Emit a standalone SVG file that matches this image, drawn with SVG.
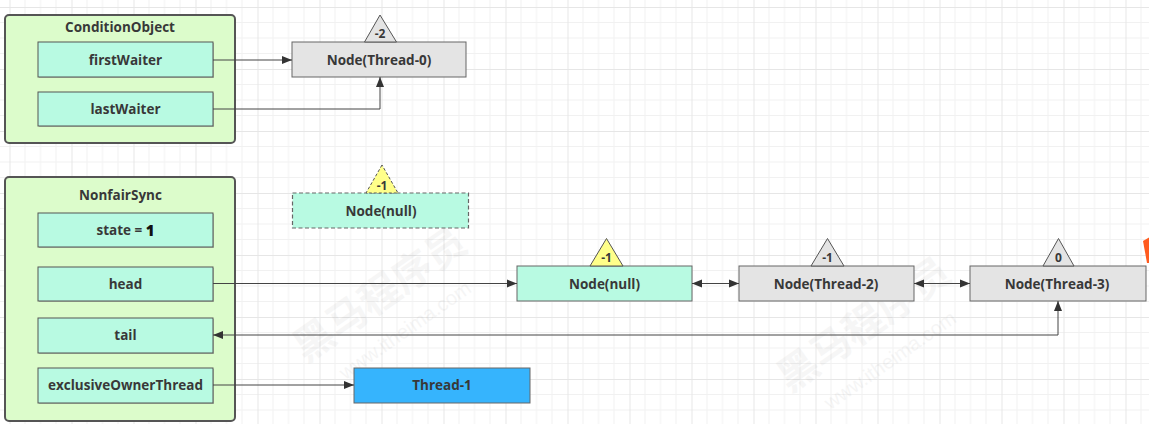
<svg xmlns="http://www.w3.org/2000/svg" width="1149" height="424" viewBox="0 0 1149 424">
  <defs>
    <pattern id="grid" patternUnits="userSpaceOnUse" x="9.5" y="7" width="62" height="62">
      <rect x="15" y="0" width="1" height="62" fill="#f1f1f1"/>
      <rect x="30.5" y="0" width="1" height="62" fill="#f1f1f1"/>
      <rect x="46" y="0" width="1" height="62" fill="#f1f1f1"/>
      <rect x="0" y="15" width="62" height="1" fill="#f1f1f1"/>
      <rect x="0" y="30.5" width="62" height="1" fill="#f1f1f1"/>
      <rect x="0" y="46" width="62" height="1" fill="#f1f1f1"/>
      <rect x="-0.5" y="0" width="1.5" height="62" fill="#e6e6e6"/>
      <rect x="0" y="-0.5" width="62" height="1.5" fill="#e6e6e6"/>
    </pattern>
    <marker id="arr" viewBox="0 0 10 10" refX="10" refY="5" markerWidth="10" markerHeight="10" markerUnits="userSpaceOnUse" orient="auto-start-reverse">
      <path d="M0,1 L10,5 L0,9 Z" fill="#333"/>
    </marker>
    <style>
      .container { fill: #dcfccb; stroke: #555; stroke-width: 2; }
      .field { fill: #b8fae2; stroke: #555; stroke-width: 1; }
      .gnode { fill: #e4e4e4; stroke: #666; stroke-width: 1; }
      .anode { fill: #b8fae2; stroke: #666; stroke-width: 1; }
      .dnode { fill: #b8fae2; stroke: #666; stroke-width: 1.2; stroke-dasharray: 4 2.5; }
      .bnode { fill: #36b4fd; stroke: #666; stroke-width: 1; }
      .tri { fill: #e4e4e4; stroke: #555; stroke-width: 1; }
      .ytri { fill: #ffff8a; stroke: #555; stroke-width: 1; }
      .shadow { fill: #888; opacity: 0.5; }
      text { font-family: "Open Sans", "Liberation Sans", sans-serif; font-weight: 700; fill: #383838; text-anchor: middle; dominant-baseline: central; }
      .lbl { font-size: 13.5px; }
      .title { font-size: 13.5px; }
      .tlbl { font-size: 12px; }
      .conn { fill: none; stroke: #444; stroke-width: 1; }
      .wm { font-family: "Noto Sans CJK SC", "Liberation Sans", sans-serif; font-weight: 700; fill: #000; opacity: 0.03; }
      .wm2 { font-family: "Liberation Sans", sans-serif; font-weight: 400; fill: #000; opacity: 0.035; }
    </style>
  </defs>

  <rect x="0" y="0" width="1149" height="424" fill="#ffffff"/>
  <rect x="0" y="0" width="1149" height="424" fill="url(#grid)"/>

  <!-- watermarks -->
  <g id="watermarks">
    <text class="wm" x="378" y="292" font-size="40" transform="rotate(-35 378 292)">黑马程序员</text>
    <text class="wm2" x="405" y="330" font-size="20" transform="rotate(-35 405 330)">www.itheima.com</text>
    <text class="wm" x="862" y="322" font-size="40" transform="rotate(-35 862 322)">黑马程序员</text>
    <text class="wm2" x="890" y="360" font-size="20" transform="rotate(-35 890 360)">www.itheima.com</text>
  </g>

  <!-- ConditionObject -->
  <g id="conditionObject">
    <rect class="container" x="5" y="15" width="230" height="128" rx="4"/>
    <text class="title" x="120" y="27">ConditionObject</text>
  </g>
  <g id="firstWaiter">
    <rect class="shadow" x="39" y="43" width="175" height="35"/>
    <rect class="field" x="38" y="42" width="175" height="35"/>
    <text class="lbl" x="125.5" y="60">firstWaiter</text>
  </g>
  <g id="lastWaiter">
    <rect class="shadow" x="39" y="93" width="175" height="34"/>
    <rect class="field" x="38" y="92" width="175" height="34"/>
    <text class="lbl" x="125.5" y="109">lastWaiter</text>
  </g>
  <g id="nodeThread0">
    <rect class="gnode" x="292" y="42" width="174" height="35"/>
    <polygon class="tri" points="380,15 364.5,42 396.5,42"/>
    <text class="tlbl" x="380" y="33">-2</text>
    <text class="lbl" x="379" y="60">Node(Thread-0)</text>
  </g>

  <!-- NonfairSync -->
  <g id="nonfairSync">
    <rect class="container" x="5" y="177" width="230" height="244" rx="4"/>
    <text class="title" x="120.5" y="195">NonfairSync</text>
  </g>
  <g id="state">
    <rect class="shadow" x="39" y="214" width="175" height="34"/>
    <rect class="field" x="38" y="213" width="175" height="34"/>
    <text class="lbl" x="125.5" y="230">state = <tspan font-size="15" font-weight="800" fill="#111">1</tspan></text>
  </g>
  <g id="head">
    <rect class="shadow" x="39" y="268" width="175" height="34"/>
    <rect class="field" x="38" y="267" width="175" height="34"/>
    <text class="lbl" x="125.5" y="284">head</text>
  </g>
  <g id="tail">
    <rect class="shadow" x="39" y="319" width="175" height="35"/>
    <rect class="field" x="38" y="318" width="175" height="35"/>
    <text class="lbl" x="125.5" y="335">tail</text>
  </g>
  <g id="exclusiveOwnerThread">
    <rect class="shadow" x="39" y="369" width="175" height="35"/>
    <rect class="field" x="38" y="368" width="175" height="35"/>
    <text class="lbl" x="125.5" y="385">exclusiveOwnerThread</text>
  </g>

  <g id="nodeNullDashed">
    <rect class="dnode" x="292.5" y="193" width="176" height="35"/>
    <polygon class="ytri" points="382,165 366,193 398,193" stroke-dasharray="3 2"/>
    <text class="tlbl" x="382" y="185">-1</text>
    <text class="lbl" x="381" y="211">Node(null)</text>
  </g>

  <g id="thread1">
    <rect class="bnode" x="354" y="368" width="176" height="35"/>
    <text class="lbl" x="442" y="385">Thread-1</text>
  </g>

  <g id="nodeNull">
    <rect class="anode" x="517" y="266" width="175" height="35"/>
    <polygon class="ytri" points="606.5,238.5 590,266 623,266"/>
    <text class="tlbl" x="606.5" y="257">-1</text>
    <text class="lbl" x="604.5" y="283.5">Node(null)</text>
  </g>
  <g id="nodeThread2">
    <rect class="gnode" x="739" y="266" width="175" height="35"/>
    <polygon class="tri" points="827.5,238.5 811,266 844,266"/>
    <text class="tlbl" x="827.5" y="257">-1</text>
    <text class="lbl" x="826" y="283.5">Node(Thread-2)</text>
  </g>
  <g id="nodeThread3">
    <rect class="gnode" x="970" y="266" width="176" height="35"/>
    <polygon class="tri" points="1058.5,238.5 1043,266 1074,266"/>
    <text class="tlbl" x="1058.5" y="257">0</text>
    <text class="lbl" x="1057" y="283.5">Node(Thread-3)</text>
  </g>

  <g id="edgeMark">
    <polygon points="1143,241 1149,237.5 1149,263 1147,263" fill="#ff5a1e"/>
  </g>

  <!-- connectors -->
  <g id="connectors">
    <path class="conn" d="M213,60 H292" marker-end="url(#arr)"/>
    <path class="conn" d="M213,109 H380 V77" marker-end="url(#arr)"/>
    <path class="conn" d="M213,283.5 H517" marker-end="url(#arr)"/>
    <path class="conn" d="M692,283.5 H739" marker-start="url(#arr)" marker-end="url(#arr)"/>
    <path class="conn" d="M914,283.5 H970" marker-start="url(#arr)" marker-end="url(#arr)"/>
    <path class="conn" d="M213,335 H1058 V301" marker-start="url(#arr)" marker-end="url(#arr)"/>
    <path class="conn" d="M213,385 H354" marker-end="url(#arr)"/>
  </g>
</svg>
